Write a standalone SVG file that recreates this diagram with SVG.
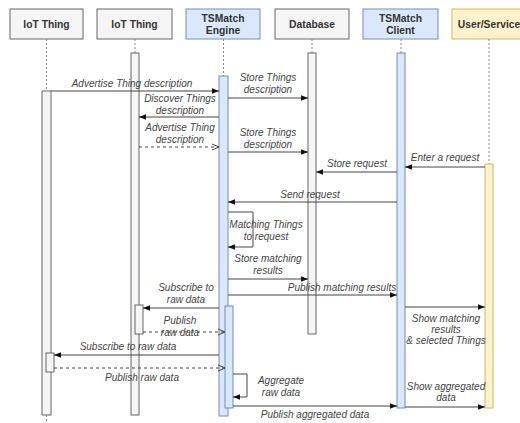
<svg xmlns="http://www.w3.org/2000/svg" width="520" height="423" viewBox="0 0 520 423">
<style>
.gray{fill:#f5f5f5;stroke:#666}
.blue{fill:#dae8fc;stroke:#6c8ebf}
.yel{fill:#fff2cc;stroke:#d6b656}
.ht{font-family:"Liberation Sans",Arial,sans-serif;font-size:10.3px;font-weight:bold;fill:#333;text-anchor:middle}
.lt{font-family:"Liberation Sans",Arial,sans-serif;font-size:10px;font-style:italic;fill:#444;text-anchor:middle}
.life{stroke:#888;stroke-width:1;stroke-dasharray:2 2;fill:none}
.msg{stroke:#444;stroke-width:1;fill:none}
.ret{stroke:#444;stroke-width:1;fill:none;stroke-dasharray:3 3}
</style>
<defs>
<marker id="af" markerWidth="8" markerHeight="8" refX="7" refY="4" orient="auto" markerUnits="userSpaceOnUse"><path d="M0,1.2 L7,4 L0,6.8 Z" fill="#111"/></marker>
<marker id="ao" markerWidth="8" markerHeight="8" refX="7" refY="4" orient="auto" markerUnits="userSpaceOnUse"><path d="M0,1 L7,4 L0,7" fill="none" stroke="#444"/></marker>
</defs>
<rect width="520" height="423" fill="#fff"/>

<g id="iot1">
<rect class="gray" x="10" y="9" width="73" height="30"/>
<text class="ht" x="46.5" y="27.5">IoT Thing</text>
<line class="life" x1="46.5" y1="39" x2="46.5" y2="423"/>
<rect class="gray" x="42" y="91" width="9" height="324"/>
<rect class="gray" x="46" y="353" width="8" height="19"/>
</g>
<g id="iot2">
<rect class="gray" x="97" y="9" width="75" height="30"/>
<text class="ht" x="134.5" y="27.5">IoT Thing</text>
<line class="life" x1="135" y1="39" x2="135" y2="53"/>
<rect class="gray" x="131" y="53" width="8" height="362"/>
<rect class="gray" x="135" y="305" width="8" height="29"/>
</g>
<g id="engine">
<rect class="blue" x="186" y="9" width="74" height="30"/>
<text class="ht" x="223" y="21.5">TSMatch</text>
<text class="ht" x="223" y="33.5">Engine</text>
<line class="life" x1="223.5" y1="39" x2="223.5" y2="76"/>
<rect class="blue" x="219" y="76" width="9" height="340"/>
<rect class="blue" x="225" y="306" width="8" height="102"/>
</g>
<g id="database">
<rect class="gray" x="275" y="9" width="74" height="30"/>
<text class="ht" x="312" y="27.5">Database</text>
<line class="life" x1="312" y1="39" x2="312" y2="53"/>
<rect class="gray" x="308" y="53" width="8" height="281"/>
</g>
<g id="client">
<rect class="blue" x="363" y="9" width="75" height="30"/>
<text class="ht" x="400.5" y="21.5">TSMatch</text>
<text class="ht" x="400.5" y="33.5">Client</text>
<line class="life" x1="401" y1="39" x2="401" y2="53"/>
<rect class="blue" x="397" y="53" width="8" height="355"/>
</g>
<g id="user">
<rect class="yel" x="452" y="9" width="74" height="30"/>
<text class="ht" x="489" y="27.5">User/Service</text>
<line class="life" x1="489" y1="39" x2="489" y2="164"/>
<rect class="yel" x="485" y="164" width="8" height="244"/>
</g>

<g id="connectors">
<line class="msg" x1="51" y1="91" x2="219" y2="91" marker-end="url(#af)"/>
<text class="lt" x="132" y="87">Advertise Thing description</text>

<line class="msg" x1="219" y1="117" x2="139" y2="117" marker-end="url(#af)"/>
<text class="lt" x="180" y="102">Discover Things</text>
<text class="lt" x="180" y="114">description</text>

<line class="ret" x1="139" y1="147" x2="219" y2="147" marker-end="url(#ao)"/>
<text class="lt" x="180" y="131">Advertise Thing</text>
<text class="lt" x="180" y="143">description</text>

<line class="msg" x1="228" y1="98" x2="308" y2="98" marker-end="url(#af)"/>
<text class="lt" x="268" y="81">Store Things</text>
<text class="lt" x="268" y="93">description</text>

<line class="msg" x1="228" y1="152" x2="308" y2="152" marker-end="url(#af)"/>
<text class="lt" x="268" y="136">Store Things</text>
<text class="lt" x="268" y="148">description</text>

<line class="msg" x1="485" y1="167" x2="405" y2="167" marker-end="url(#af)"/>
<text class="lt" x="445" y="161">Enter a request</text>

<line class="msg" x1="397" y1="172" x2="316" y2="172" marker-end="url(#af)"/>
<text class="lt" x="357" y="167">Store request</text>

<line class="msg" x1="397" y1="202" x2="228" y2="202" marker-end="url(#af)"/>
<text class="lt" x="310" y="198">Send request</text>

<polyline class="msg" points="228,212 253,212 253,247 228,247" marker-end="url(#af)"/>
<text class="lt" x="266" y="228">Matching Things</text>
<text class="lt" x="266" y="240">to request</text>

<line class="msg" x1="228" y1="279" x2="308" y2="279" marker-end="url(#af)"/>
<text class="lt" x="268" y="262">Store matching</text>
<text class="lt" x="268" y="274">results</text>

<line class="msg" x1="228" y1="295" x2="397" y2="295" marker-end="url(#af)"/>
<text class="lt" x="342" y="291">Publish matching results</text>

<line class="msg" x1="219" y1="308" x2="143" y2="308" marker-end="url(#af)"/>
<text class="lt" x="186" y="291">Subscribe to</text>
<text class="lt" x="186" y="303">raw data</text>

<line class="ret" x1="143" y1="332" x2="225" y2="332" marker-end="url(#ao)"/>
<text class="lt" x="180" y="324">Publish</text>
<text class="lt" x="180" y="336">raw data</text>

<line class="msg" x1="219" y1="355" x2="54" y2="355" marker-end="url(#af)"/>
<text class="lt" x="128" y="350">Subscribe to raw data</text>

<line class="ret" x1="54" y1="368" x2="225" y2="368" marker-end="url(#ao)"/>
<text class="lt" x="142" y="381">Publish raw data</text>

<polyline class="msg" points="233,374 247,374 247,397 233,397" marker-end="url(#af)"/>
<text class="lt" x="281" y="384">Aggregate</text>
<text class="lt" x="281" y="396">raw data</text>

<line class="msg" x1="233" y1="406" x2="397" y2="406" marker-end="url(#af)"/>
<text class="lt" x="315" y="418">Publish aggregated data</text>

<line class="msg" x1="405" y1="307" x2="485" y2="307" marker-end="url(#af)"/>
<text class="lt" x="446" y="322">Show matching</text>
<text class="lt" x="446" y="333">results</text>
<text class="lt" x="446" y="344">&amp; selected Things</text>

<line class="msg" x1="405" y1="407" x2="485" y2="407" marker-end="url(#af)"/>
<text class="lt" x="446" y="390">Show aggregated</text>
<text class="lt" x="446" y="401">data</text>
</g>
</svg>
